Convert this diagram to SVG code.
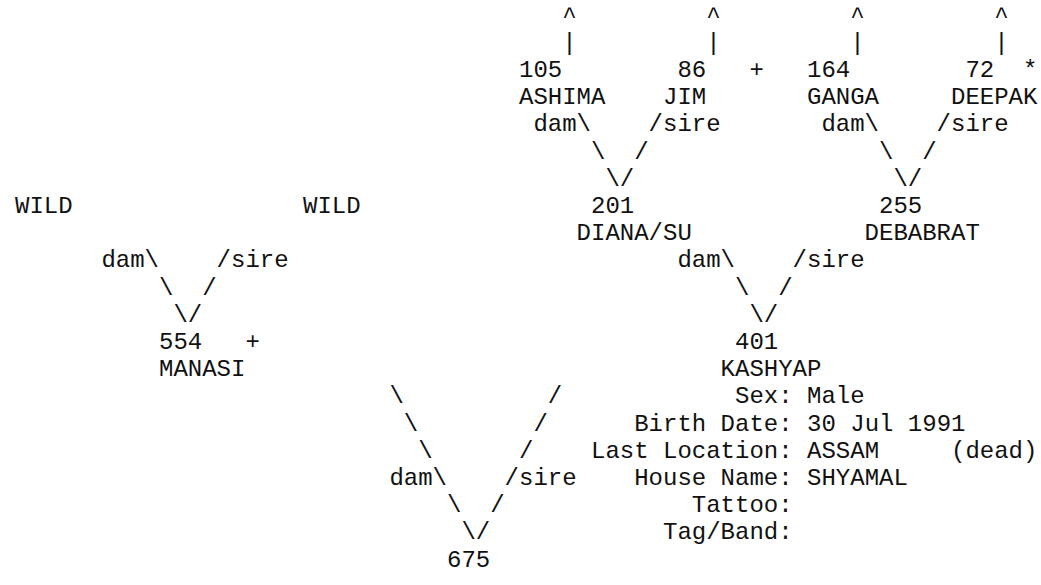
<svg xmlns="http://www.w3.org/2000/svg" width="1041" height="585" viewBox="0 0 1041 585">
<style>
text{font-family:"Liberation Mono","Courier New",monospace;font-size:24px;fill:#111;white-space:pre}
</style>
<rect width="1041" height="585" fill="#fff"/>
<g id="connectors">
<text x="562.2" y="22.6">^</text><text x="706.2" y="22.6">^</text><text x="850.2" y="22.6">^</text><text x="994.2" y="22.6">^</text>
<text x="562.2" y="49.8">|</text><text x="706.2" y="49.8">|</text><text x="850.2" y="49.8">|</text><text x="994.2" y="49.8">|</text>
<text x="533.4" y="131.4">dam\</text><text x="648.6" y="131.4">/sire</text><text x="821.4" y="131.4">dam\</text><text x="936.6" y="131.4">/sire</text>
<text x="591" y="158.6">\</text><text x="634.2" y="158.6">/</text><text x="879" y="158.6">\</text><text x="922.2" y="158.6">/</text>
<text x="605.4" y="185.8">\/</text><text x="893.4" y="185.8">\/</text>
<text x="101.4" y="267.4">dam\</text><text x="216.6" y="267.4">/sire</text><text x="677.4" y="267.4">dam\</text><text x="792.6" y="267.4">/sire</text>
<text x="159" y="294.6">\</text><text x="202.2" y="294.6">/</text><text x="735" y="294.6">\</text><text x="778.2" y="294.6">/</text>
<text x="173.4" y="321.8">\/</text><text x="749.4" y="321.8">\/</text>
<text x="389.4" y="403.4">\</text><text x="547.8" y="403.4">/</text>
<text x="403.8" y="430.6">\</text><text x="533.4" y="430.6">/</text>
<text x="418.2" y="457.8">\</text><text x="519" y="457.8">/</text>
<text x="389.4" y="485">dam\</text><text x="504.6" y="485">/sire</text>
<text x="447" y="512.2">\</text><text x="490.2" y="512.2">/</text>
<text x="461.4" y="539.4">\/</text>
</g>
<g id="n105"><text x="519" y="77">105</text><text x="519" y="104.2">ASHIMA</text></g>
<g id="n86"><text x="677.4" y="77">86</text><text x="749.4" y="77">+</text><text x="663" y="104.2">JIM</text></g>
<g id="n164"><text x="807" y="77">164</text><text x="807" y="104.2">GANGA</text></g>
<g id="n72"><text x="965.4" y="77">72</text><text x="1023" y="77">*</text><text x="951" y="104.2">DEEPAK</text></g>
<g id="wild1"><text x="15" y="213">WILD</text></g>
<g id="wild2"><text x="303" y="213">WILD</text></g>
<g id="n201"><text x="591" y="213">201</text><text x="576.6" y="240.2">DIANA/SU</text></g>
<g id="n255"><text x="879" y="213">255</text><text x="864.6" y="240.2">DEBABRAT</text></g>
<g id="n554"><text x="159" y="349">554</text><text x="245.4" y="349">+</text><text x="159" y="376.2">MANASI</text></g>
<g id="n401">
<text x="735" y="349">401</text>
<text x="720.6" y="376.2">KASHYAP</text>
<text x="735" y="403.4">Sex: Male</text>
<text x="634.2" y="430.6">Birth Date: 30 Jul 1991</text>
<text x="591" y="457.8">Last Location: ASSAM</text><text x="951" y="457.8">(dead)</text>
<text x="634.2" y="485">House Name: SHYAMAL</text>
<text x="691.8" y="512.2">Tattoo:</text>
<text x="663" y="539.4">Tag/Band:</text>
</g>
<g id="n675"><text x="447" y="566.6">675</text></g>
</svg>
